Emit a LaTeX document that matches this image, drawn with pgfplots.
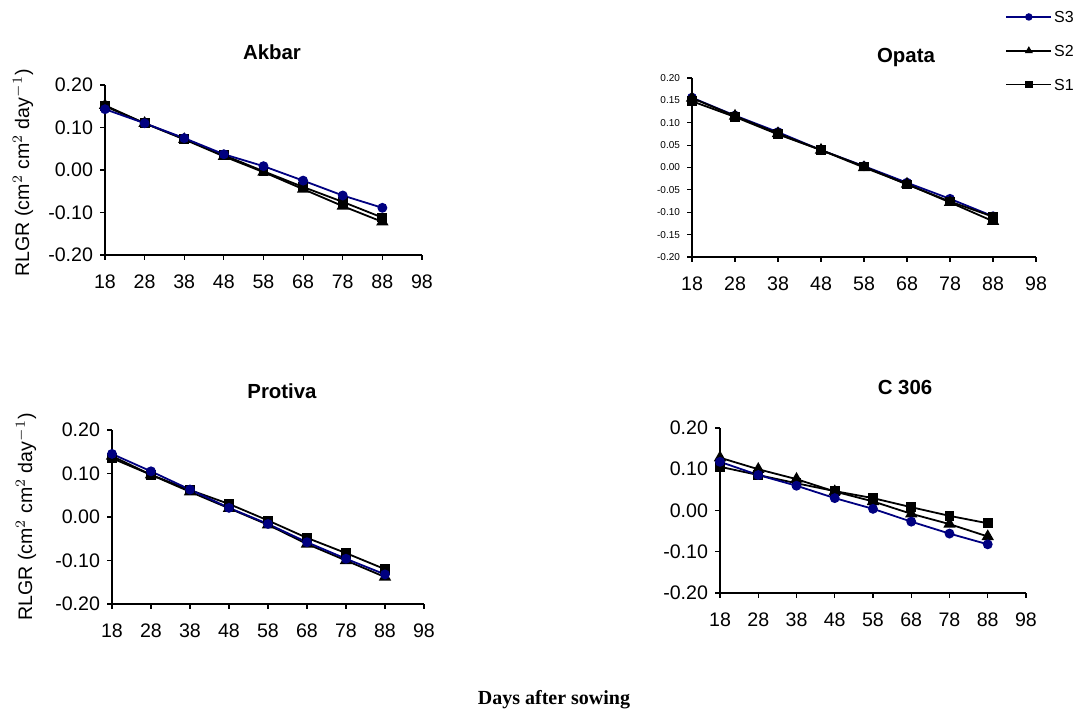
\documentclass[border=0pt]{standalone}
\usepackage{pgfplots}
\pgfplotsset{compat=1.18}
\usepackage{pgfplotstable}
\usepackage{fontspec}
\setmainfont{Liberation Sans}
\newfontfamily\timesfont{Liberation Serif}

\definecolor{sthree}{RGB}{0,0,128}

% RLGR values: x = days after sowing
\pgfplotstableread{
x   s3      s2      s1
18  0.143   0.152   0.150
28  0.110   0.110   0.110
38  0.075   0.072   0.073
48  0.037   0.032   0.035
58  0.009   -0.005  -0.003
68  -0.025  -0.045  -0.040
78  -0.060  -0.085  -0.075
88  -0.089  -0.122  -0.112
}\akbar
\pgfplotstableread{
x   s3      s2      s1
18  0.156   0.155   0.148
28  0.116   0.115   0.113
38  0.079   0.076   0.074
48  0.039   0.039   0.039
58  0.003   0.000   0.002
68  -0.034  -0.037  -0.038
78  -0.070  -0.078  -0.076
88  -0.109  -0.120  -0.110
}\opata
\pgfplotstableread{
x   s3      s2      s1
18  0.145   0.140   0.135
28  0.105   0.097   0.097
38  0.063   0.058   0.062
48  0.021   0.020   0.030
58  -0.016  -0.018  -0.008
68  -0.058  -0.062  -0.048
78  -0.096  -0.100  -0.083
88  -0.132  -0.138  -0.120
}\protiva
\pgfplotstableread{
x   s3      s2      s1
18  0.118   0.128   0.106
28  0.086   0.100   0.086
38  0.060   0.076   0.066
48  0.030   0.046   0.047
58  0.004   0.022   0.030
68  -0.027  -0.008  0.008
78  -0.056  -0.033  -0.013
88  -0.082  -0.063  -0.031
}\cthree

\pgfplotsset{
  panel/.style={
    scale only axis,
    xmin=18, xmax=98, ymin=-0.2, ymax=0.2,
    xtick={18,28,...,98},
    ytick={-0.2,-0.1,0,0.1,0.2},
    axis x line=bottom, axis y line=left,
    axis line style={-, line width=0.6pt},
    tick align=outside,
    major tick length=2.5pt,
    tick style={black, line width=0.6pt},
    ticklabel style={font=\fontsize{9.8}{11}\selectfont},
    xticklabel style={/pgf/number format/assume math mode=true, yshift=-4pt},
    yticklabel style={/pgf/number format/fixed, /pgf/number format/fixed zerofill,
      /pgf/number format/precision=2, /pgf/number format/assume math mode=true},
    clip=false,
  },
  s3/.style={color=sthree, line width=0.9pt, mark=*, mark size=2pt, mark options={solid, fill=sthree}},
  s2/.style={color=black, line width=0.9pt, mark=triangle*, mark size=2.7pt, mark options={solid, fill=black}},
  s1/.style={color=black, line width=0.9pt, mark=square*, mark size=2pt, mark options={solid, fill=black}},
  /pgfplots/legend image code/.code={%
    \draw[mark repeat=2, mark phase=2, #1, mark size=1.4pt]
      plot coordinates {(0pt,0pt) (11.25pt,0pt) (22.5pt,0pt)};},
}

\begin{document}
\begin{tikzpicture}
\path[use as bounding box] (0,0) rectangle (541pt,358.5pt);

% Akbar
\begin{axis}[panel, at={(52.5pt,231pt)}, anchor=south west, width=158.5pt, height=85pt]
  \addplot[s1] table[x=x, y=s1] {\akbar};
  \addplot[s2] table[x=x, y=s2] {\akbar};
  \addplot[s3] table[x=x, y=s3] {\akbar};
\end{axis}

% Opata
\begin{axis}[panel, at={(346pt,230pt)}, anchor=south west, width=172pt, height=89.5pt,
  ytick={-0.2,-0.15,-0.1,-0.05,0,0.05,0.1,0.15,0.2},
  yticklabel style={font=\fontsize{5}{6}\selectfont},
  legend style={at={(axis description cs:0.91,1.385)}, anchor=north west, draw=none, fill=none,
    inner sep=0pt, row sep=9.4pt, font=\fontsize{8}{9}\selectfont,
    nodes={inner sep=1pt, text height=5.5pt, text depth=0pt}},
  legend cell align=left]
  \addplot[s3] table[x=x, y=s3] {\opata};
  \addplot[s2] table[x=x, y=s2] {\opata};
  \addplot[s1] table[x=x, y=s1] {\opata};
  \legend{S3, S2, S1}
\end{axis}

% Protiva
\begin{axis}[panel, at={(56pt,56.5pt)}, anchor=south west, width=156pt, height=87pt]
  \addplot[s1] table[x=x, y=s1] {\protiva};
  \addplot[s2] table[x=x, y=s2] {\protiva};
  \addplot[s3] table[x=x, y=s3] {\protiva};
\end{axis}

% C 306
\begin{axis}[panel, at={(360pt,62pt)}, anchor=south west, width=153pt, height=82.5pt]
  \addplot[s1] table[x=x, y=s1] {\cthree};
  \addplot[s2] table[x=x, y=s2] {\cthree};
  \addplot[s3] table[x=x, y=s3] {\cthree};
\end{axis}

% titles
\node[font=\bfseries\fontsize{10.2}{12}\selectfont] at (136pt,332.5pt) {Akbar};
\node[font=\bfseries\fontsize{10.2}{12}\selectfont] at (453pt,329.5pt) {Opata};
\node[font=\bfseries\fontsize{10.2}{12}\selectfont] at (141pt,163pt) {Protiva};
\node[font=\bfseries\fontsize{10.2}{12}\selectfont] at (452.5pt,165pt) {C 306};

% y labels
\node[rotate=90, font=\fontsize{9.8}{11}\selectfont] at (11.5pt,272pt) {RLGR (cm$^{2}$ cm$^{2}$ day$^{-1}$)};
\node[rotate=90, font=\fontsize{9.8}{11}\selectfont] at (13pt,100pt) {RLGR (cm$^{2}$ cm$^{2}$ day$^{-1}$)};

% x label
\node[font=\timesfont\bfseries\fontsize{10}{12}\selectfont] at (277pt,8.5pt) {Days after sowing};
\end{tikzpicture}
\end{document}
